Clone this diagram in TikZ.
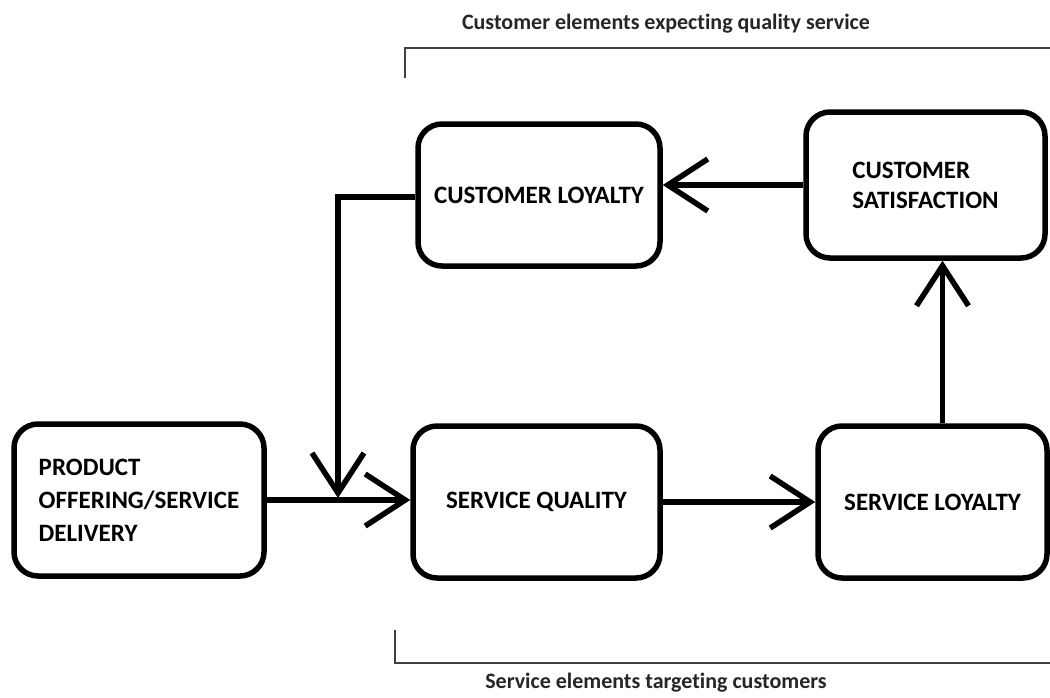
\documentclass[tikz,border=0pt]{standalone}
\usepackage{fontspec}
\setmainfont[Ligatures=NoCommon]{Carlito}
\usetikzlibrary{arrows.meta}
\begin{document}
\begin{tikzpicture}[x=1pt,y=-1pt,
  box/.style={draw=black, line width=5.5pt, rounded corners=24pt, align=left,
    inner sep=0pt, font=\fontsize{25}{33}\selectfont\bfseries},
  arr/.style={draw=black, line width=5.5pt,
    -{Straight Barb[length=40pt,width=52pt,line width=5.5pt]}},
  brk/.style={draw=black!75, line width=1.6pt},
  caplabel/.style={font=\fontsize{22}{26}\selectfont\bfseries, text=black!85, inner sep=0pt}]
\fill[white] (0,0) rectangle (1050,697);
\useasboundingbox (0,0) rectangle (1050,697);
% boxes
\node[box, minimum width=250pt, minimum height=152pt] (prod) at (139,500)
  {PRODUCT\\OFFERING/SERVICE\\DELIVERY};
\node[box, minimum width=247pt, minimum height=152pt] (sq) at (536.5,502) {SERVICE QUALITY};
\node[box, minimum width=229pt, minimum height=152pt] (sl) at (932.5,502) {SERVICE LOYALTY};
\node[box, minimum width=242pt, minimum height=142pt] (cl) at (539,195) {CUSTOMER LOYALTY};
\node[box, minimum width=239pt, minimum height=146pt, font=\fontsize{25}{30}\selectfont\bfseries] (cs) at (925.5,185)
  {CUSTOMER\\SATISFACTION};
% connectors
\coordinate (j) at (338,498);
\draw[arr] (prod.east) -- (prod.east -| sq.west);
\draw[arr] (sq.east) -- (sq.east -| sl.west);
\draw[arr] ([xshift=10pt]sl.north) -- ([xshift=10pt]sl.north |- cs.south);
\draw[arr] (cs.west) -- (cs.west -| cl.east);
\draw[arr] ([yshift=-2pt]cl.west) -| (j);
% brackets
\coordinate (t1) at (405,78);
\coordinate (t2) at (405,48);
\coordinate (t3) at (1050,48);
\draw[brk] (t1) -- (t2) -- (t3);
\coordinate (b1) at (395,630);
\coordinate (b2) at (395,663);
\coordinate (b3) at (1050,663);
\draw[brk] (b1) -- (b2) -- (b3);
\node[caplabel] (toplab) at (666,24) {Customer elements expecting quality service};
\node[caplabel] (botlab) at (656,683) {Service elements targeting customers};
\end{tikzpicture}
\end{document}
